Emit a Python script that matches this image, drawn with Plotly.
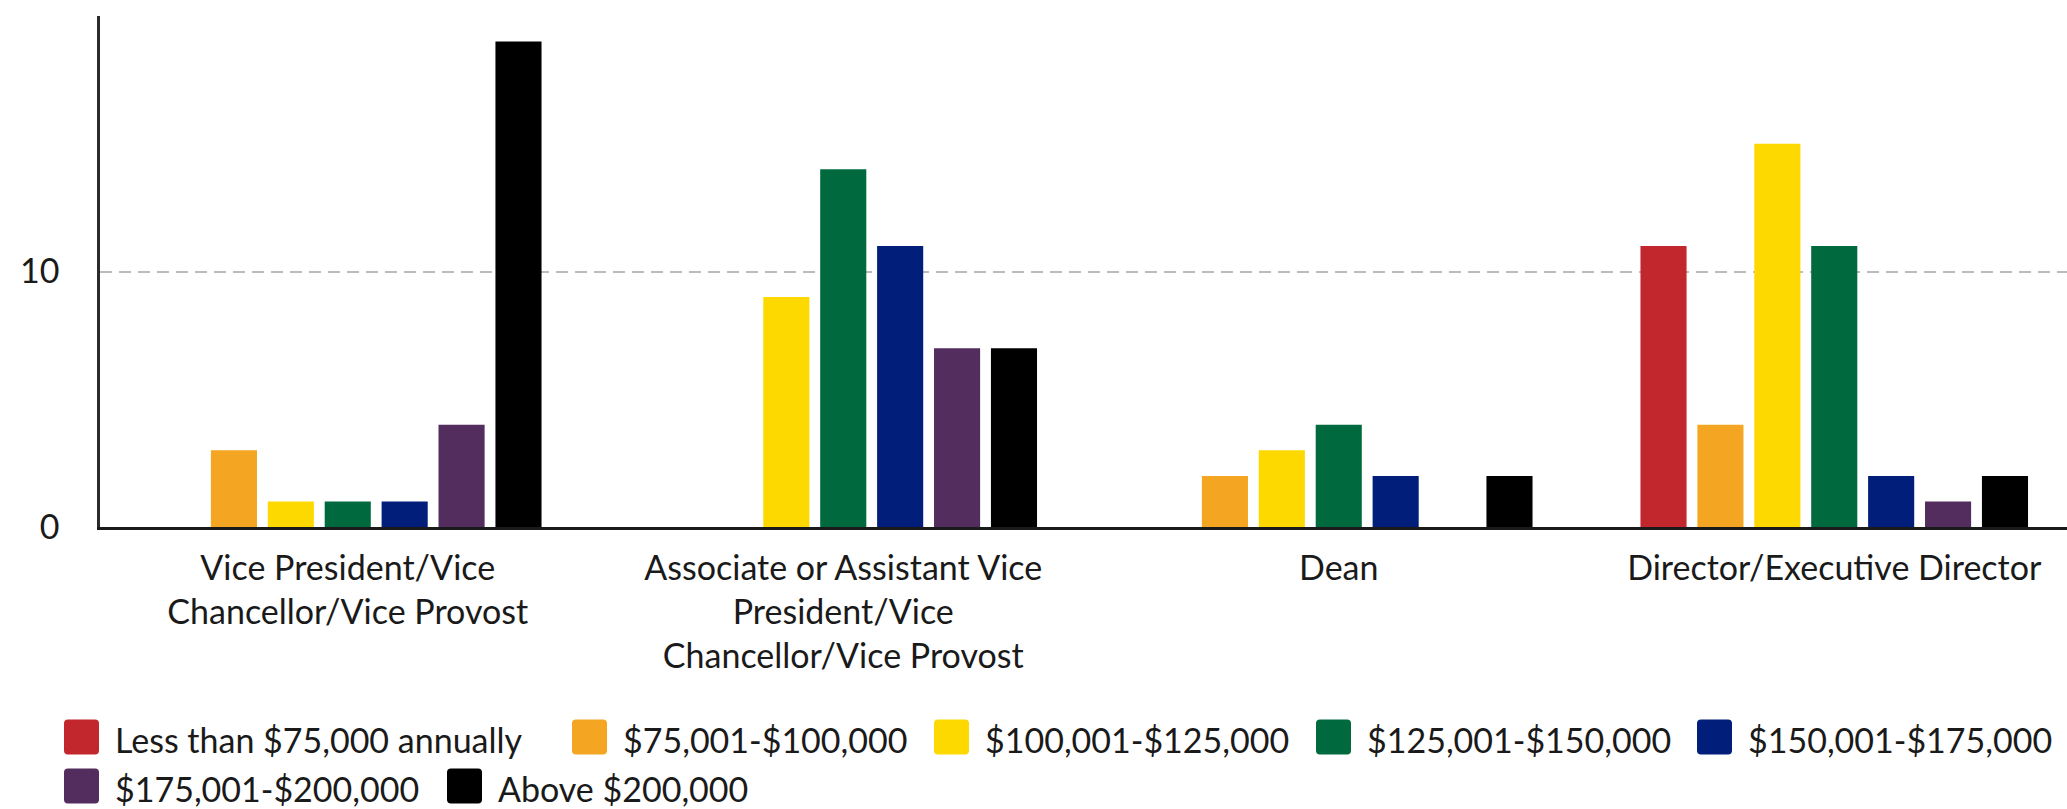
import plotly.graph_objects as go

categories = [
    "Vice President/Vice<br>Chancellor/Vice Provost",
    "Associate or Assistant Vice<br>President/Vice<br>Chancellor/Vice Provost",
    "Dean",
    "Director/Executive Director",
]
series_names = [
    "Less than $75,000 annually",
    "$75,001-$100,000",
    "$100,001-$125,000",
    "$125,001-$150,000",
    "$150,001-$175,000",
    "$175,001-$200,000",
    "Above $200,000",
]
less_75k = [0, 0, 0, 11]
s75_100k = [3, 0, 2, 4]
s100_125k = [1, 9, 3, 15]
s125_150k = [1, 14, 4, 11]
s150_175k = [1, 11, 2, 2]
s175_200k = [4, 7, 0, 1]
above_200k = [19, 7, 2, 2]
series_values = [less_75k, s75_100k, s100_125k, s125_150k, s150_175k, s175_200k, above_200k]
colors = ["#C1272D", "#F4A623", "#FDD900", "#006A3E", "#001E7A", "#532D5E", "#000000"]

W, H = 2067, 809
ML, MR, MT, MB = 100, 0, 16, 282
PW, PH = W - ML - MR, H - MT - MB

fig = go.Figure()
for name, vals, col in zip(series_names, series_values, colors):
    fig.add_trace(go.Bar(x=categories, y=vals, name=name, marker_color=col,
                         marker_line_width=0, showlegend=False))

# custom legend (large rounded swatches) -- layout positions in pixels
legend_rows = [[0, 1, 2, 3, 4], [5, 6]]
legend_x = [[64, 572, 934, 1316, 1697], [64, 447]]
legend_y = [737, 786]
SW = 35
R = 4

def px(x):
    return (x - ML) / PW

def py(y):
    return (H - MB - y) / PH

shapes = []
annotations = []
for row, xs, yc in zip(legend_rows, legend_x, legend_y):
    for idx, x0 in zip(row, xs):
        x1 = x0 + SW
        y0 = yc - SW / 2
        y1 = yc + SW / 2
        path = (
            f"M{px(x0 + R)},{py(y0)} L{px(x1 - R)},{py(y0)} Q{px(x1)},{py(y0)} {px(x1)},{py(y0 + R)} "
            f"L{px(x1)},{py(y1 - R)} Q{px(x1)},{py(y1)} {px(x1 - R)},{py(y1)} "
            f"L{px(x0 + R)},{py(y1)} Q{px(x0)},{py(y1)} {px(x0)},{py(y1 - R)} "
            f"L{px(x0)},{py(y0 + R)} Q{px(x0)},{py(y0)} {px(x0 + R)},{py(y0)} Z"
        )
        shapes.append(dict(type="path", xref="paper", yref="paper", path=path,
                           fillcolor=colors[idx], line=dict(width=0)))
        annotations.append(dict(xref="paper", yref="paper", x=px(x0 + 50), y=py(yc + 2),
                                xanchor="left", yanchor="middle", showarrow=False,
                                borderpad=0, text=series_names[idx],
                                font=dict(size=34, color="#1a1a1a")))

fig.update_layout(
    width=W, height=H,
    barmode="group", bargap=0.196, bargroupgap=0.19,
    paper_bgcolor="white", plot_bgcolor="white",
    font=dict(family="Lato", size=34, color="#1a1a1a"),
    margin=dict(l=ML, r=MR, t=MT, b=MB, autoexpand=False),
    showlegend=False,
    shapes=shapes,
    annotations=annotations,
    xaxis=dict(range=[-0.5, -0.5 + PW / 495.5], showline=True, linecolor="#1a1a1a",
               linewidth=3, ticks="", tickfont=dict(size=34), automargin=False,
               ticklabelstandoff=9),
    yaxis=dict(range=[0, 20], tickvals=[0, 10], showline=True, linecolor="#2a2a2a",
               linewidth=2.5, showgrid=True, gridcolor="#BBBBBB", griddash="12px,7px",
               gridwidth=2, zeroline=False, ticks="", ticklabelstandoff=31,
               tickfont=dict(size=34), automargin=False),
)
fig.write_html(
    "out.html",
    config={"displayModeBar": False},
    post_script="document.body.style.margin='0';document.body.style.overflow='hidden';",
)
